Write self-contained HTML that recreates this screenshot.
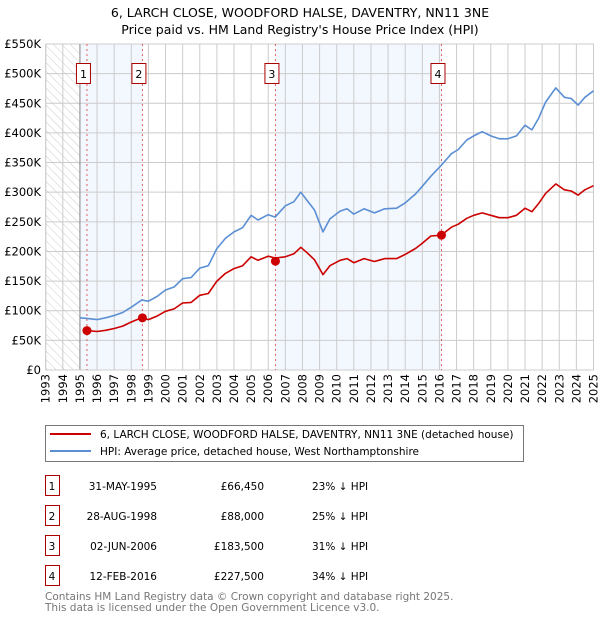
<!DOCTYPE html>
<html><head><meta charset="utf-8"><style>
body{margin:0;background:#fff;}
svg{display:block;font-family:"DejaVu Sans","Liberation Sans",sans-serif;}
</style></head><body>
<svg id="c" width="600" height="620" viewBox="0 0 600 620">
<defs><pattern id="hatch" width="6" height="6" patternUnits="userSpaceOnUse" patternTransform="rotate(-45)"><line x1="0" y1="0" x2="0" y2="6" stroke="#ccc" stroke-width="1"/></pattern></defs>
<text x="300" y="17" text-anchor="middle" font-size="12.5">6, LARCH CLOSE, WOODFORD HALSE, DAVENTRY, NN11 3NE</text>
<text x="300" y="34" text-anchor="middle" font-size="12.5">Price paid vs. HM Land Registry's House Price Index (HPI)</text>
<g id="plot"></g>
<g>
<rect x="45.5" y="425.5" width="478" height="36" fill="#fff" stroke="#777"/>
<line x1="50" y1="434" x2="91" y2="434" stroke="#cc0000" stroke-width="2"/>
<text x="100" y="438" font-size="10.5">6, LARCH CLOSE, WOODFORD HALSE, DAVENTRY, NN11 3NE (detached house)</text>
<line x1="50" y1="451" x2="91" y2="451" stroke="#5b8fd4" stroke-width="2"/>
<text x="100" y="455" font-size="10.5">HPI: Average price, detached house, West Northamptonshire</text>
</g>
<g id="table" font-size="10.5"></g>
<text x="45" y="600" font-size="10.5" fill="#777">Contains HM Land Registry data © Crown copyright and database right 2025.</text>
<text x="45" y="611" font-size="10.5" fill="#777">This data is licensed under the Open Government Licence v3.0.</text>
</svg>
<script>
const hpiYears=[1995.0,1995.4,1996.0,1996.5,1997.0,1997.5,1998.0,1998.6,1999.0,1999.5,2000.0,2000.5,2001.0,2001.5,2002.0,2002.5,2003.0,2003.5,2004.0,2004.5,2005.0,2005.4,2006.0,2006.4,2007.0,2007.5,2007.9,2008.3,2008.7,2009.2,2009.6,2010.2,2010.6,2011.0,2011.6,2012.2,2012.8,2013.5,2014.0,2014.6,2015.0,2015.5,2016.1,2016.7,2017.1,2017.6,2018.0,2018.5,2019.0,2019.5,2020.0,2020.5,2021.0,2021.4,2021.8,2022.2,2022.8,2023.3,2023.7,2024.1,2024.5,2025.0];
const hpiValues=[88,87,85,88,92,97,106,118,116,124,135,140,154,156,172,176,205,222,233,240,261,253,262,258,277,284,300,285,270,233,255,268,272,263,272,265,272,273,282,297,310,327,345,365,372,388,395,402,395,390,390,395,413,405,425,452,476,460,458,447,460,471];
const redYears=[1995.4,1996.0,1996.5,1997.0,1997.5,1998.0,1998.6,1999.0,1999.5,2000.0,2000.5,2001.0,2001.5,2002.0,2002.5,2003.0,2003.5,2004.0,2004.5,2005.0,2005.4,2006.0,2006.4,2007.0,2007.5,2007.9,2008.3,2008.7,2009.2,2009.6,2010.2,2010.6,2011.0,2011.6,2012.2,2012.8,2013.5,2014.0,2014.6,2015.0,2015.5,2016.1,2016.7,2017.1,2017.6,2018.0,2018.5,2019.0,2019.5,2020.0,2020.5,2021.0,2021.4,2021.8,2022.2,2022.8,2023.3,2023.7,2024.1,2024.5,2025.0];
const redValues=[66.5,65,67,70,74,81,88,85,91,99,103,113,114,126,129,150,163,171,176,191,185,192,189,191,196,207,197,186,161,176,185,188,181,188,183,188,188,195,205,214,226,227.5,241,246,256,261,265,261,257,257,261,273,267,281,298,314,304,302,295,304,311];
const saleYears=[1995.41,1998.65,2006.42,2016.12];
const saleValues=[66.45,88,183.5,227.5];
const saleLabels=["1","2","3","4"];
const saleDates=["31-MAY-1995","28-AUG-1998","02-JUN-2006","12-FEB-2016"];
const salePrices=["£66,450","£88,000","£183,500","£227,500"];
const saleDiffs=["23% ↓ HPI","25% ↓ HPI","31% ↓ HPI","34% ↓ HPI"];
const yTicks=[0,50,100,150,200,250,300,350,400,450,500,550];
const yTickLabels=["£0","£50K","£100K","£150K","£200K","£250K","£300K","£350K","£400K","£450K","£500K","£550K"];
const xTicks=[1993,1994,1995,1996,1997,1998,1999,2000,2001,2002,2003,2004,2005,2006,2007,2008,2009,2010,2011,2012,2013,2014,2015,2016,2017,2018,2019,2020,2021,2022,2023,2024,2025];

const L=45.7,R=593.5,T=44,B=370;
const xs=y=>L+(y-1993)/(2025-1993)*(R-L);
const ys=v=>B-v/550*(B-T);
const NS="http://www.w3.org/2000/svg";
const plot=document.getElementById('plot');
function mk(tag,attrs,parent){const e=document.createElementNS(NS,tag);for(const k in attrs)e.setAttribute(k,attrs[k]);(parent||plot).appendChild(e);return e;}
const bandEdges=[1995,saleYears[1],saleYears[2],saleYears[3]];
for(let i=0;i<2;i++){
  const b=mk('rect',{x:xs(bandEdges[i*2]),y:T,width:xs(bandEdges[i*2+1])-xs(bandEdges[i*2]),height:B-T,fill:'#eef3fd',opacity:0.7});
  
  
}
const h=mk('rect',{x:L,y:T,width:xs(1995)-L,height:B-T,fill:'url(#hatch)'});


yTicks.forEach((v,i)=>{
  const g=mk('line',{x1:L,x2:R,y1:ys(v),y2:ys(v),stroke:'#ccc','stroke-width':1});
  
  
  const t=mk('text',{x:41,y:ys(v)+4,'text-anchor':'end','font-size':11.5});
  t.textContent=yTickLabels[i];
  
  
});
xTicks.forEach(y=>{
  const g=mk('line',{x1:xs(y),x2:xs(y),y1:T,y2:B,stroke:'#ccc','stroke-width':1});
  
  
  const t=mk('text',{x:0,y:0,'text-anchor':'end','font-size':11.5,transform:`translate(${xs(y)+4},374) rotate(-90)`});
  t.textContent=y;
  
  
});
const ax=mk('line',{x1:xs(1995),x2:xs(1995),y1:T,y2:B,stroke:'#888','stroke-width':1});


const fr=mk('rect',{x:L,y:T,width:R-L,height:B-T,fill:'none',stroke:'#ccc'});


saleYears.forEach((y,i)=>{
  const l=mk('line',{x1:xs(y),x2:xs(y),y1:T,y2:B,stroke:'#e06060','stroke-width':1,'stroke-dasharray':'2,3'});
  
  
});
function path(xa,va,col,name){
  const d=xa.map((x,i)=>(i?'L':'M')+xs(x).toFixed(1)+','+ys(va[i]).toFixed(1)).join('');
  const p=mk('path',{d:d,fill:'none',stroke:col,'stroke-width':1.6,'stroke-linejoin':'round'});
  
  
}
path(hpiYears,hpiValues,'#5b8fd4','hpi-line');
path(redYears,redValues,'#cc0000','property-price-line');
saleYears.forEach((y,i)=>{
  const c=mk('circle',{cx:xs(y),cy:ys(saleValues[i]),r:4.5,fill:'#cc0000'});
  
  
  const bx=mk('rect',{x:xs(y)-10.5,y:63.5,width:14,height:20,fill:'#fff',stroke:'#aa0000'});
  
  
  const t=mk('text',{x:xs(y)-3.5,y:78,'text-anchor':'middle','font-size':11});
  t.textContent=saleLabels[i];
  
  
});
const tb=document.getElementById('table');
saleLabels.forEach((s,i)=>{
  const y0=475+i*30;
  const r=mk('rect',{x:45.5,y:y0+0.5,width:14,height:20,fill:'#fff',stroke:'#aa0000'},tb);
  
  
  const cells=[[52,'middle',s],[157,'end',saleDates[i]],[264,'end',salePrices[i]],[312,'start',saleDiffs[i]]];
  cells.forEach(c=>{
    const t=mk('text',{x:c[0],y:y0+15,'text-anchor':c[1]},tb);
    t.textContent=c[2];
    
    
  });
});
</script>
</body></html>
